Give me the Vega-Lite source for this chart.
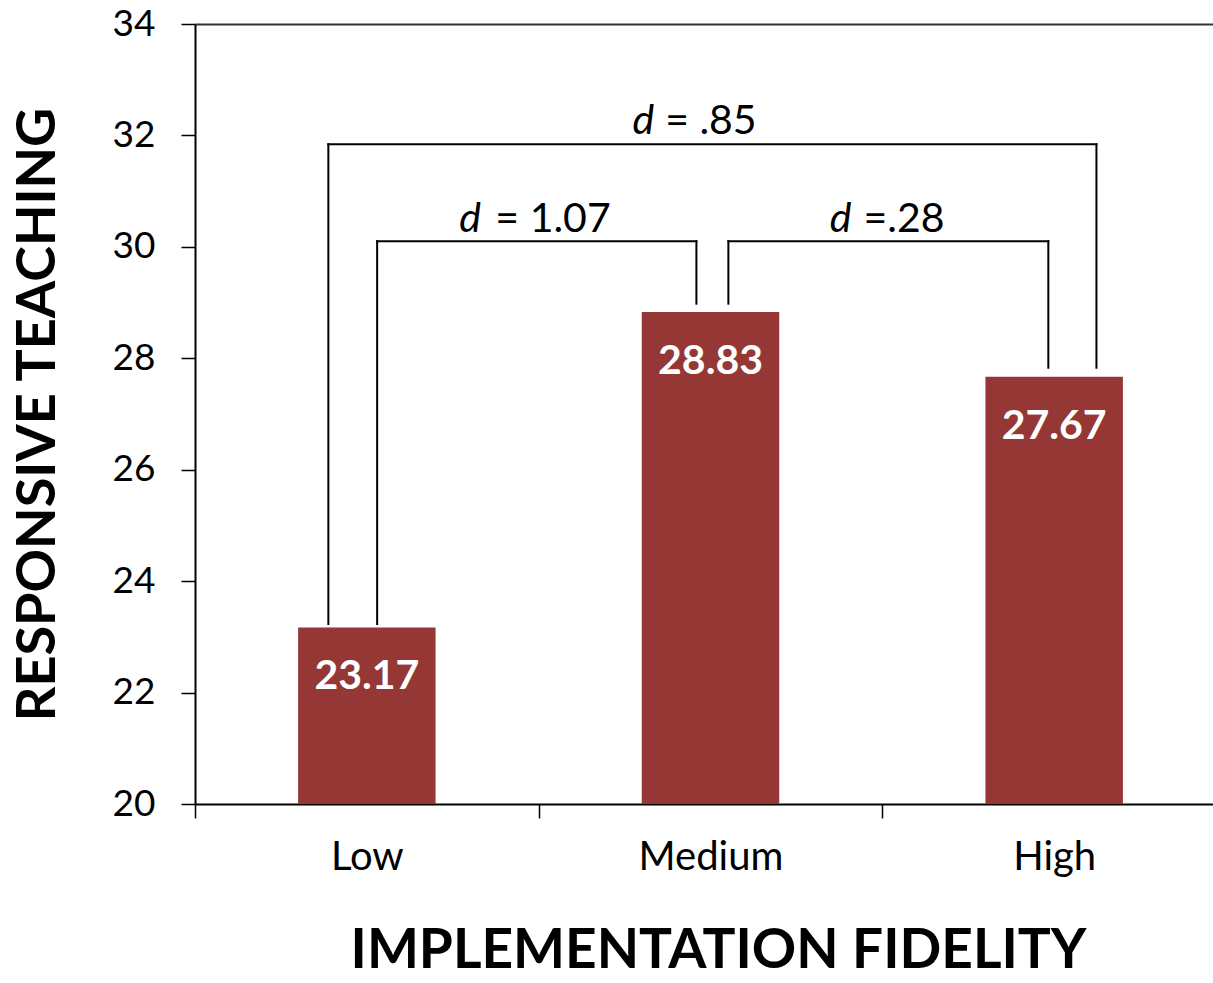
{
  "$schema": "https://vega.github.io/schema/vega-lite/v6.json",
  "width": 1031,
  "height": 780,
  "autosize": {"type": "none"},
  "padding": {"left": 195, "top": 24, "right": 0, "bottom": 179},
  "config": {
    "view": {"stroke": null},
    "font": "Lato"
  },
  "datasets": {
    "bars": [
      {"fidelity": "Low", "score": 23.17},
      {"fidelity": "Medium", "score": 28.83},
      {"fidelity": "High", "score": 27.67}
    ],
    "brackets": [
      {"x": 0.530, "x2": 0.530, "y": 23.23, "y2": 30.10},
      {"x": 0.530, "x2": 1.459, "y": 30.10, "y2": 30.10},
      {"x": 1.459, "x2": 1.459, "y": 30.10, "y2": 28.98},
      {"x": 1.552, "x2": 1.552, "y": 28.98, "y2": 30.10},
      {"x": 1.552, "x2": 2.483, "y": 30.10, "y2": 30.10},
      {"x": 2.483, "x2": 2.483, "y": 30.10, "y2": 27.83},
      {"x": 0.388, "x2": 0.388, "y": 23.23, "y2": 31.84},
      {"x": 0.388, "x2": 2.623, "y": 31.84, "y2": 31.84},
      {"x": 2.623, "x2": 2.623, "y": 31.84, "y2": 27.83}
    ],
    "effects": [
      {"dPos": 0.769, "restPos": 0.874, "y": 30.27, "rest": "= 1.07"},
      {"dPos": 1.273, "restPos": 1.368, "y": 32.02, "rest": "= .85"},
      {"dPos": 1.847, "restPos": 1.945, "y": 30.27, "rest": "=.28"}
    ]
  },
  "layer": [
    {
      "data": {"name": "bars"},
      "encoding": {
        "x": {
          "field": "fidelity",
          "type": "nominal",
          "sort": ["Low", "Medium", "High"],
          "scale": {"paddingInner": 0, "paddingOuter": 0},
          "axis": {
            "title": "IMPLEMENTATION FIDELITY",
            "tickBand": "extent",
            "tickSize": 14,
            "tickWidth": 1.5,
            "tickColor": "black",
            "domainColor": "black",
            "domainWidth": 2,
            "labelAngle": 0,
            "labelFontSize": 40,
            "labelColor": "black",
            "labelPadding": 19,
            "titleFontSize": 55,
            "titleFontWeight": "bold",
            "titleColor": "black",
            "titlePadding": 47,
            "titleX": 523,
            "grid": false
          }
        },
        "y": {
          "field": "score",
          "type": "quantitative",
          "scale": {"domain": [20, 34], "nice": false, "zero": false},
          "axis": {
            "title": "RESPONSIVE TEACHING",
            "values": [20, 22, 24, 26, 28, 30, 32, 34],
            "format": "d",
            "grid": true,
            "gridColor": "#333333",
            "gridWidth": 2,
            "gridOpacity": {"condition": {"test": "datum.value === 34", "value": 1}, "value": 0},
            "domainColor": "black",
            "domainWidth": 2,
            "tickColor": "black",
            "tickWidth": 1.5,
            "tickSize": 14,
            "labelFontSize": 37,
            "labelColor": "black",
            "labelPadding": 26,
            "titleFontSize": 54,
            "titleFontWeight": "bold",
            "titleColor": "black",
            "titlePadding": 47
          }
        }
      },
      "layer": [
        {
          "mark": {"type": "bar", "color": "#953735", "width": {"band": 0.4}},
          "encoding": {"y2": {"datum": 20}}
        },
        {
          "mark": {"type": "text", "color": "white", "fontWeight": "bold", "fontSize": 41, "baseline": "middle", "dy": 50},
          "encoding": {
            "text": {"field": "score", "type": "quantitative", "format": ".2f"}
          }
        }
      ]
    },
    {
      "encoding": {
        "y": {"field": "y", "type": "quantitative", "scale": {"domain": [20, 34], "nice": false, "zero": false}}
      },
      "layer": [
        {
          "data": {"name": "brackets"},
          "mark": {"type": "rule", "color": "black", "strokeWidth": 2, "strokeCap": "square"},
          "encoding": {
            "x": {"field": "x", "type": "quantitative", "scale": {"domain": [0, 3], "nice": false, "zero": false}, "axis": null},
            "x2": {"field": "x2"},
            "y2": {"field": "y2"}
          }
        },
        {
          "data": {"name": "effects"},
          "mark": {"type": "text", "text": "d", "fontStyle": "italic", "fontSize": 41, "align": "left", "baseline": "alphabetic", "color": "black"},
          "encoding": {
            "x": {"field": "dPos", "type": "quantitative", "scale": {"domain": [0, 3], "nice": false, "zero": false}, "axis": null}
          }
        },
        {
          "data": {"name": "effects"},
          "mark": {"type": "text", "fontSize": 41, "align": "left", "baseline": "alphabetic", "color": "black"},
          "encoding": {
            "x": {"field": "restPos", "type": "quantitative", "scale": {"domain": [0, 3], "nice": false, "zero": false}, "axis": null},
            "text": {"field": "rest"}
          }
        }
      ]
    }
  ],
  "resolve": {"scale": {"x": "independent"}}
}
